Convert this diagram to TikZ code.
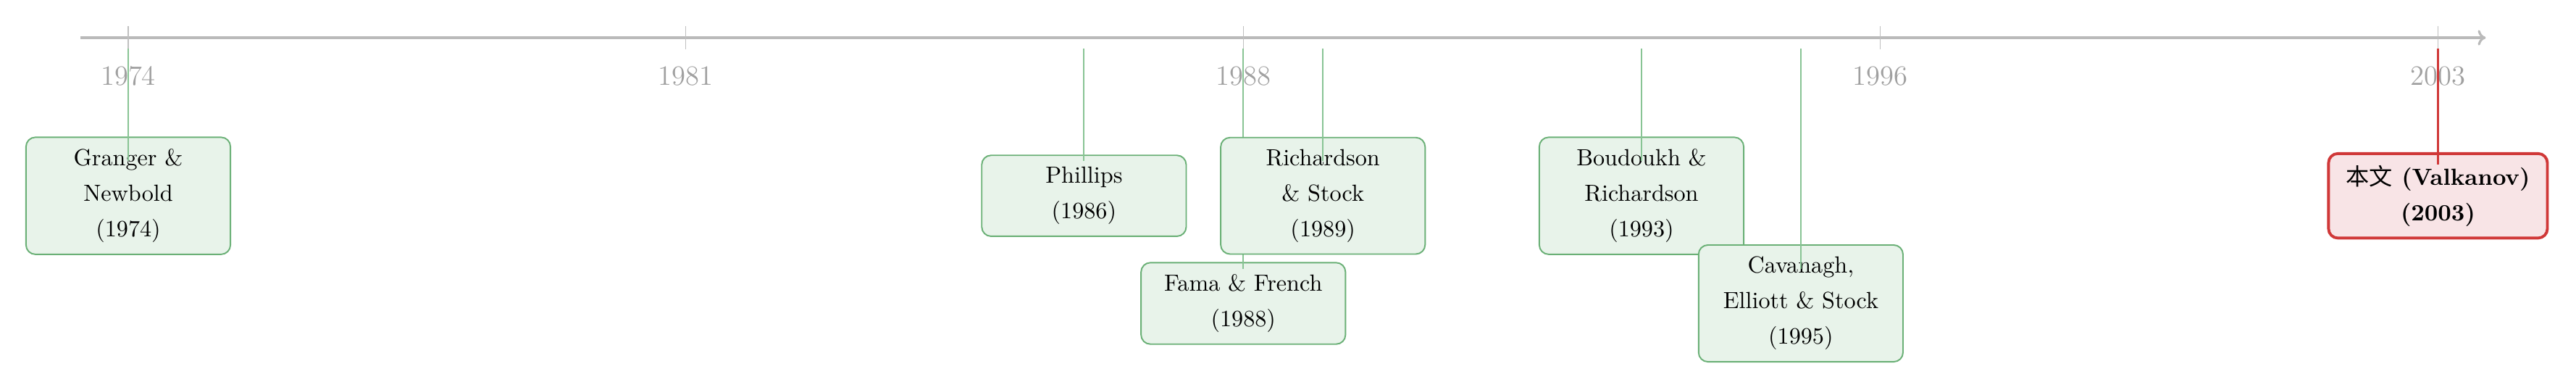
\documentclass[tikz,border=0pt]{standalone}
\usepackage{fontspec}
\usetikzlibrary{arrows.meta}
\newfontfamily\cjk{Noto Sans CJK SC}
\definecolor{axisgray}{RGB}{186,186,186}
\definecolor{tickgray}{RGB}{192,192,192}
\definecolor{labelgray}{RGB}{160,160,160}
\definecolor{evborder}{RGB}{106,176,118}
\definecolor{evfill}{RGB}{232,243,234}
\definecolor{evstem}{RGB}{136,196,148}
\definecolor{ownborder}{RGB}{208,56,56}
\definecolor{ownfill}{RGB}{248,228,230}
\begin{document}
\begin{tikzpicture}[
  evbox/.style={draw=evborder,fill=evfill,line width=0.6pt,rounded corners=4pt,
    align=center,minimum width=3.08cm,inner xsep=7.5pt,inner ysep=5pt,
    font=\linespread{1.27}\selectfont},
  ownbox/.style={evbox,draw=ownborder,fill=ownfill,line width=1.2pt,font=\linespread{1.27}\selectfont\bfseries},
  evline/.style={evstem,line width=0.55pt},
  ownline/.style={ownborder,line width=0.7pt}]
\useasboundingbox (-1.932,-5.294) rectangle (36.88,0.568);
% time axis with year ticks
\draw[axisgray,line width=1pt,-{To[length=3.4pt,width=6.6pt]}] (-0.72,0)--(35.52,0);
\foreach \yr in {1974,1981,1988,1996,2003} {
  \draw[tickgray,line width=0.4pt] ({(\yr-1974)*1.2},0.17)--({(\yr-1974)*1.2},-0.17);
  \node[font=\large,text=labelgray] (lab\yr) at ({(\yr-1974)*1.2},-0.58) {\yr};
}
% papers: box first, then the stem up to the axis
\foreach \nm/\yr/\row/\txt in {
    granger/1974/-2.38/{Granger \&\\ Newbold\\ (1974)},
    phillips/1986/-2.38/{Phillips\\ (1986)},
    fama/1988/-4.0/{Fama \& French\\ (1988)},
    richstock/1989/-2.38/{Richardson\\ \& Stock\\ (1989)},
    boudoukh/1993/-2.38/{Boudoukh \&\\ Richardson\\ (1993)},
    cavanagh/1995/-4.0/{Cavanagh,\\ Elliott \& Stock\\ (1995)}} {
  \coordinate (s\nm) at ({(\yr-1974)*1.2},-0.164);
  \node[evbox] (\nm) at ({(\yr-1974)*1.2},\row) {\txt};
  \draw[evline] (s\nm) -- ([yshift=0.52cm]\nm.center);
}
\coordinate (svalkanov) at (34.8,-0.164);
\node[ownbox] (valkanov) at (34.8,-2.38) {{\mdseries\cjk 本文} (Valkanov)\\ (2003)};
\draw[ownline] (svalkanov) -- ([yshift=0.47cm]valkanov.center);
\end{tikzpicture}
\end{document}
